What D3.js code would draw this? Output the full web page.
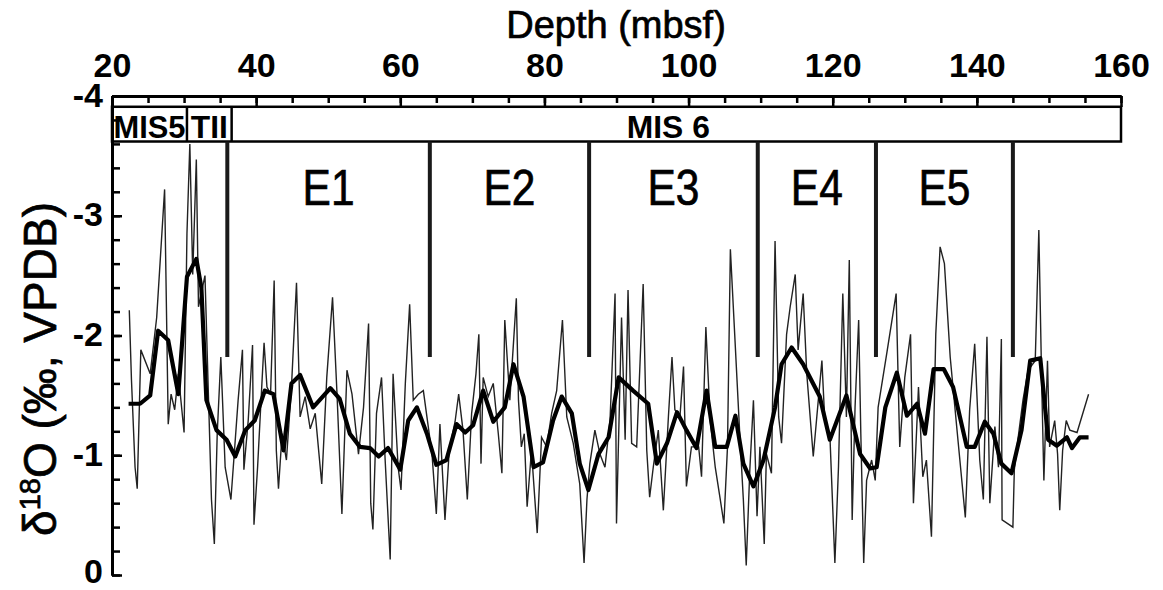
<!DOCTYPE html>
<html>
<head>
<meta charset="utf-8">
<title>d18O vs depth</title>
<script src="https://cdn.jsdelivr.net/npm/d3@7"></script>
<style type="text/css">
	body{ margin:0; background:#fff; }
	svg text{ font-family:"Liberation Sans", Arial, sans-serif; fill:#000; }
	.heavy{ stroke:#000; stroke-width:0.7px; }
</style>
</head>
<body>
<div id="chart"></div>
<script>
// raw isotope record (thin line)
var rawDepth = [22.4,22.7,23.2,23.5,24.0,25.3,26.2,27.3,27.8,28.2,28.7,29.2,30.0,30.4,30.8,31.2,31.7,32.0,32.9,33.4,
	33.8,34.2,34.6,35.1,35.7,36.5,36.9,37.5,38.1,38.3,38.9,39.5,39.7,40.2,40.8,41.1,41.5,42.0,42.5,42.8,
	43.1,43.6,44.2,44.9,45.6,46.1,46.8,47.5,48.2,49.1,49.8,50.6,51.2,51.9,52.6,53.3,54.2,54.9,55.6,55.9,
	56.2,56.7,57.4,57.9,58.6,59.0,59.7,60.1,60.7,61.3,61.8,62.5,63.2,64.4,65.0,65.5,66.2,66.8,67.6,68.1,
	68.7,69.3,69.9,70.5,70.9,71.2,71.5,72.2,72.9,73.6,74.1,74.5,75.2,76.1,76.4,76.8,77.2,77.6,78.2,79.0,
	79.6,80.3,81.0,81.7,82.5,83.1,84.0,84.9,85.5,85.9,86.3,87.0,87.7,88.4,89.1,89.8,90.0,90.7,91.2,91.6,
	92.1,92.8,93.7,94.2,94.6,95.1,95.8,96.5,97.2,97.7,98.1,98.8,99.3,99.7,100.4,101.4,101.8,102.4,103.0,103.7,
	104.4,104.9,105.4,105.8,106.4,107.1,107.6,108.0,108.5,109.0,109.5,109.9,110.5,110.8,111.5,112.0,112.5,112.9,113.6,114.1,
	114.8,115.2,115.9,116.4,117.3,118.0,118.5,118.9,119.6,120.3,120.8,121.4,121.9,122.3,122.7,123.1,123.6,123.9,124.3,124.7,
	125.4,125.9,126.3,127.5,128.8,129.3,130.0,130.8,131.2,131.9,132.5,133.0,133.7,134.3,134.9,135.5,136.3,137.2,138.4,139.0,
	139.7,140.4,140.9,141.4,141.8,142.5,143.0,143.4,143.5,145.0,145.2,145.8,146.4,147.1,148.1,148.6,149.0,149.3,149.8,150.1,
	150.8,151.2,151.5,151.9,152.4,152.9,153.9,155.5];
var rawD18O = [-2.21,-1.63,-0.90,-0.72,-1.88,-1.68,-2.15,-3.22,-1.26,-1.51,-1.38,-1.68,-1.19,-2.85,-3.60,-2.51,-3.47,-2.24,-2.50,-1.46,
	-0.63,-0.26,-1.18,-1.82,-0.90,-0.63,-0.96,-1.46,-1.88,-0.88,-1.29,-1.92,-0.42,-0.90,-1.60,-1.94,-1.57,-1.51,-2.46,-1.04,
	-0.72,-1.18,-0.96,-1.57,-2.44,-1.32,-1.49,-1.22,-1.35,-0.76,-1.65,-2.32,-1.54,-0.51,-1.71,-1.51,-1.01,-1.40,-2.10,-0.60,
	-0.38,-1.35,-1.65,-0.96,-0.13,-1.68,-0.90,-0.71,-1.60,-2.26,-1.46,-1.51,-1.54,-1.01,-0.51,-1.26,-0.46,-1.05,-1.28,-1.51,
	-1.21,-0.63,-1.35,-1.68,-2.01,-0.93,-1.65,-1.49,-1.60,-1.18,-0.85,-2.13,-1.46,-2.31,-1.46,-1.07,-1.18,-0.57,-1.04,-0.35,
	-1.15,-1.07,-1.35,-1.54,-2.13,-1.32,-1.10,-0.76,-0.10,-0.63,-0.93,-1.21,-1.01,-0.90,-1.29,-2.35,-0.43,-2.15,-1.13,-2.38,
	-1.10,-1.07,-2.43,-1.04,-0.65,-0.90,-1.21,-0.54,-1.32,-1.82,-1.38,-1.32,-1.74,-0.74,-1.07,-1.07,-0.82,-2.07,-1.29,-0.90,
	-0.63,-0.43,-1.07,-2.72,-2.01,-1.18,-0.63,-0.08,-0.88,-1.46,-0.49,-1.07,-0.26,-1.01,-0.85,-2.79,-1.32,-1.10,-2.01,-2.24,
	-2.51,-1.88,-2.35,-1.68,-0.99,-1.46,-1.79,-1.29,-1.18,-0.10,-0.90,-2.35,-1.32,-2.63,-0.46,-1.40,-2.13,-1.18,-0.10,-0.79,
	-0.96,-0.79,-1.40,-1.85,-2.35,-1.07,-1.65,-2.01,-0.60,-1.57,-0.82,-0.96,-0.32,-2.01,-2.74,-2.60,-1.82,-1.24,-0.48,-1.38,
	-1.93,-0.96,-0.63,-1.99,-0.60,-1.24,-0.90,-1.97,-0.46,-0.40,-0.88,-1.18,-1.46,-1.71,-1.79,-2.88,-1.60,-0.79,-1.79,-1.07,
	-1.29,-1.01,-0.54,-1.04,-1.29,-1.21,-1.19,-1.51];

// smoothed record (thick line)
var smoothDepth = [22.3,23.9,25.3,26.4,27.8,29.2,30.4,31.7,32.4,33.1,34.5,35.9,37.1,38.5,39.8,41.2,42.4,43.8,44.9,46.1,
	47.9,50.3,51.6,53.0,54.4,55.8,57.0,58.3,60.0,61.1,62.3,63.7,65.0,66.4,67.8,69.0,70.1,71.5,72.9,74.5,
	75.7,77.1,78.5,79.8,81.2,82.4,83.8,84.9,86.1,87.5,88.9,90.3,92.3,94.4,95.6,97.0,98.4,99.7,101.1,102.5,
	103.7,105.3,106.5,107.6,109.0,110.4,112.0,112.9,114.3,115.9,118.2,119.6,121.9,123.8,125.2,126.1,127.3,128.9,130.3,131.7,
	132.8,134.0,135.4,136.7,138.6,139.7,141.1,142.3,143.4,144.8,146.2,147.4,148.8,149.9,151.1,152.5,153.2,154.3,155.5];
var smoothD18O = [-1.43,-1.43,-1.50,-2.04,-1.96,-1.51,-2.49,-2.64,-2.40,-1.46,-1.21,-1.13,-0.99,-1.21,-1.29,-1.54,-1.51,-1.04,-1.60,-1.67,
	-1.40,-1.56,-1.47,-1.18,-1.07,-1.06,-0.99,-1.06,-0.88,-1.29,-1.40,-1.18,-0.92,-0.96,-1.26,-1.19,-1.25,-1.54,-1.28,-1.40,
	-1.76,-1.49,-0.90,-0.94,-1.29,-1.49,-1.35,-0.93,-0.71,-1.01,-1.15,-1.65,-1.54,-1.43,-0.93,-1.10,-1.36,-1.21,-1.06,-1.54,
	-1.07,-1.07,-1.33,-0.93,-0.74,-0.96,-1.40,-1.76,-1.90,-1.76,-1.49,-1.13,-1.50,-1.01,-0.89,-0.90,-1.40,-1.69,-1.33,-1.43,
	-1.18,-1.72,-1.72,-1.57,-1.07,-1.07,-1.28,-1.18,-0.93,-0.85,-1.21,-1.79,-1.81,-1.13,-1.08,-1.15,-1.06,-1.15,-1.15];

// event boundaries and labels
var boundaryDepths = [36, 64.1, 86.2, 109.6, 126.0, 145.0];
var eventLabels = ['E1','E2','E3','E4','E5'];

// marine isotope stage strip
var stageNames = ['MIS5','TII','MIS 6'];
var stageStart = [20, 30.4, 36.6];
var stageEnd = [30.4, 36.6, 160];

var xTicks = [20,40,60,80,100,120,140,160];
var yTicks = [-4,-3,-2,-1,0];

var W = 1163, H = 590;
var svg = d3.select('#chart').append('svg')
	.attr('width', W).attr('height', H);

var x = d3.scaleLinear().domain([20,160]).range([112,1121]);
var y = d3.scaleLinear().domain([-4,0]).range([96,575]);

// stage strip
var stripTop = -3.91, stripBottom = -3.62;
var strip = svg.append('g');
strip.append('rect')
	.attr('x', x(20)).attr('y', y(stripTop))
	.attr('width', x(160)-x(20)).attr('height', y(stripBottom)-y(stripTop))
	.attr('fill','#fff').attr('stroke','#000').attr('stroke-width',2.5);
strip.selectAll('.div')
	.data(stageStart.slice(1))
	.enter().append('line')
	.attr('x1', function(d){ return x(d); }).attr('x2', function(d){ return x(d); })
	.attr('y1', y(stripTop)).attr('y2', y(stripBottom))
	.attr('stroke','#000').attr('stroke-width',2.5);
strip.selectAll('.stage')
	.data(stageNames)
	.enter().append('text')
	.attr('x', function(d,i){
		if(i == 2) return (x(stageStart[i])+x(stageEnd[i]))/2 - 8;
		return (x(stageStart[i])+x(stageEnd[i]))/2;
	})
	.attr('y', y(stripBottom) - 4)
	.attr('text-anchor','middle')
	.style('font-size','32px').style('font-weight','bold')
	.attr('textLength', function(d,i){ return [72,37,83][i]; })
	.attr('lengthAdjust','spacingAndGlyphs')
	.text(function(d){ return d; });

// boundary bars
svg.selectAll('.bar')
	.data(boundaryDepths)
	.enter().append('line')
	.attr('x1', function(d){ return x(d); }).attr('x2', function(d){ return x(d); })
	.attr('y1', y(stripBottom)).attr('y2', y(-1.82))
	.attr('stroke','#1a1a1a').attr('stroke-width',4);

// event labels between the bars
svg.selectAll('.ev')
	.data(eventLabels)
	.enter().append('text')
	.attr('class','heavy')
	.attr('x', function(d,i){ return (x(boundaryDepths[i])+x(boundaryDepths[i+1]))/2; })
	.attr('y', 205)
	.attr('text-anchor','middle')
	.style('font-size','50px')
	.attr('textLength', 52).attr('lengthAdjust','spacingAndGlyphs')
	.text(function(d){ return d; });

// raw line
var rawData = rawDepth.map(function(d,i){ return [d, rawD18O[i]]; });
var smoothData = smoothDepth.map(function(d,i){ return [d, smoothD18O[i]]; });
var line = d3.line()
	.x(function(d){ return x(d[0]); })
	.y(function(d){ return y(d[1]); });

svg.append('path')
	.datum(rawData)
	.attr('d', line)
	.attr('fill','none').attr('stroke','#222').attr('stroke-width',1.4)
	.attr('stroke-linejoin','miter');

svg.append('path')
	.datum(smoothData)
	.attr('d', line)
	.attr('fill','none').attr('stroke','#000').attr('stroke-width',4.2)
	.attr('stroke-linejoin','round');

// top axis, ticks pointing inward
var topMinor = svg.append('g').attr('transform','translate(0,' + y(-4) + ')')
	.call(d3.axisTop(x).tickValues(d3.range(20,161,5)).tickSize(-7).tickSizeOuter(0).tickFormat(''));
var topAxis = svg.append('g').attr('transform','translate(0,' + y(-4) + ')')
	.call(d3.axisTop(x).tickValues(xTicks).tickSize(-11).tickSizeOuter(0).tickPadding(19));
topAxis.selectAll('text')
	.style('font-size','34px').style('font-weight','bold')
	.attr('fill','#000');

// left axis, ticks pointing inward
var leftMinor = svg.append('g').attr('transform','translate(' + x(20) + ',0)')
	.call(d3.axisLeft(y).tickValues(d3.range(-4,0.01,0.2)).tickSize(-8).tickSizeOuter(0).tickFormat(''));
var leftAxis = svg.append('g').attr('transform','translate(' + x(20) + ',0)')
	.call(d3.axisLeft(y).tickValues(yTicks).tickSize(-10).tickSizeOuter(0).tickPadding(9)
		.tickFormat(function(d){ return d == 0 ? '0' : String(d).replace('\u2212','-'); }));
leftAxis.selectAll('text')
	.style('font-size','34px').style('font-weight','bold')
	.attr('fill','#000')
	.attr('dy', function(d){ return d == 0 ? '0.22em' : '0.3em'; });

svg.selectAll('.domain').attr('stroke','#000').attr('stroke-width',3);
svg.selectAll('.tick line').attr('stroke','#000').attr('stroke-width',2.5);

// axis titles
svg.append('text')
	.attr('class','heavy')
	.attr('x', 616).attr('y', 38)
	.attr('text-anchor','middle')
	.style('font-size','38px')
	.text('Depth (mbsf)');

var yl = svg.append('text')
	.attr('class','heavy')
	.attr('transform','translate(56,369) rotate(-90)')
	.attr('text-anchor','middle')
	.style('font-size','46px');
yl.append('tspan').text('\u03b4');
yl.append('tspan').attr('dy','-16').style('font-size','29px').text('18');
yl.append('tspan').attr('dy','16').text('O (\u2030, VPDB)');
</script>
</body>
</html>
